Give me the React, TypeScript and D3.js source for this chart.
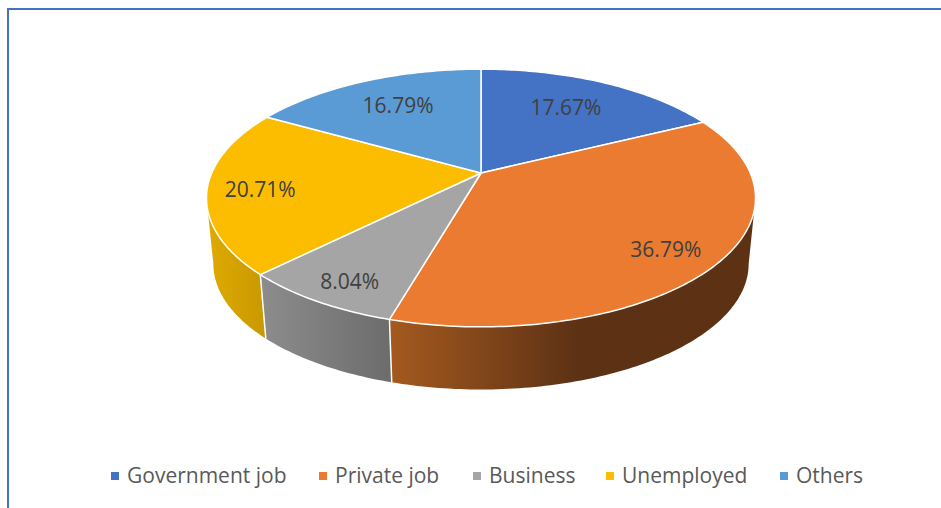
import { useEffect, useRef } from "react"
import * as d3 from "d3"

const categories = ["Government job", "Private job", "Business", "Unemployed", "Others"]
const shares = [17.67, 36.79, 8.04, 20.71, 16.79]
const colors = ["#4472C4", "#EB7B31", "#A5A5A5", "#FCBD00", "#5B9BD5"]

const width = 941
const height = 508

// tilted disc, seen in perspective
const cx = 481
const cy = 173
const discA = 269.3
const discB = 124
const tilt = 0.194

// the rim's lower edge
const lowerCy = 239.5
const lowerScale = 0.975

const labelRadius = [0.69, 0.82, 0.87, 0.81, 0.7]
// nudges so the labels sit where the original put them
const labelNudge: [number, number][] = [[-3, 0], [-4, 4], [8, 0], [0, 3], [2, 0]]
const legendSwatchX = [111, 319, 473, 606, 780]

function project(angle: number, r: number, y0 = cy, s = 1): [number, number] {
  const u = Math.sin(angle) * r
  const v = -Math.cos(angle) * r
  const w = 1 - tilt * v
  return [cx + (s * discA * u) / w, y0 + (s * discB * v) / w]
}

function arcPoints(a0: number, a1: number, y0 = cy, s = 1): [number, number][] {
  const n = Math.max(2, Math.ceil(Math.abs(a1 - a0) * 60))
  return d3.range(n + 1).map((i) => project(a0 + ((a1 - a0) * i) / n, 1, y0, s))
}

export default function App() {
  const svgRef = useRef<SVGSVGElement>(null)

  useEffect(() => {
    if (!svgRef.current) return
    const svg = d3.select(svgRef.current)
    svg.selectAll("*").remove()

    const line = d3.line<[number, number]>()
    const pie = d3.pie<number>().value((d) => d).sort(null)
    const slices = pie(shares)

    // side shading
    const defs = svg.append("defs")
    const gradient = (id: string, x1: number, x2: number, stops: [number, string][]) => {
      const g = defs
        .append("linearGradient")
        .attr("id", id)
        .attr("gradientUnits", "userSpaceOnUse")
        .attr("x1", x1)
        .attr("x2", x2)
        .attr("y1", 0)
        .attr("y2", 0)
      stops.forEach(([o, c]) => g.append("stop").attr("offset", o).attr("stop-color", c))
    }
    gradient("side1", 392, 600, [[0, "#A3591F"], [0.9, "#5C3114"], [1, "#5C3114"]])
    gradient("side2", 262, 392, [[0, "#8C8C8C"], [1, "#6C6C6C"]])
    gradient("side3", 207, 266, [[0, "#DFAB00"], [1, "#C89800"]])

    // tangent angles where the silhouette leaves the disc
    const rightTangent = Math.PI - Math.acos(tilt)
    const leftTangent = Math.PI + Math.acos(tilt)

    const sides: [number, number, string][] = [
      [slices[3].startAngle, leftTangent, "url(#side3)"],
      [slices[2].startAngle, slices[2].endAngle, "url(#side2)"],
      [rightTangent, slices[1].endAngle, "url(#side1)"],
    ]
    sides.forEach(([a0, a1, fill]) => {
      const pts = [...arcPoints(a0, a1), ...arcPoints(a1, a0, lowerCy, lowerScale)]
      svg.append("path").attr("d", line(pts) + "Z").attr("fill", fill)
    })

    // white seams between rim panels
    ;[slices[2].startAngle, slices[2].endAngle].forEach((a) => {
      svg
        .append("path")
        .attr("d", line([project(a, 1), project(a, 1, lowerCy, lowerScale)]))
        .attr("stroke", "#fff")
        .attr("stroke-width", 1.5)
        .attr("fill", "none")
    })

    // top face
    svg
      .append("g")
      .selectAll("path")
      .data(slices)
      .enter()
      .append("path")
      .attr("d", (d) => line([[cx, cy], ...arcPoints(d.startAngle, d.endAngle)]) + "Z")
      .attr("fill", (_, i) => colors[i])
      .attr("stroke", "#fff")
      .attr("stroke-width", 1.5)
      .attr("stroke-linejoin", "round")

    // data labels
    svg
      .append("g")
      .selectAll("text")
      .data(slices)
      .enter()
      .append("text")
      .attr("x", (d, i) => project((d.startAngle + d.endAngle) / 2, labelRadius[i])[0] + labelNudge[i][0])
      .attr("y", (d, i) => project((d.startAngle + d.endAngle) / 2, labelRadius[i])[1] + labelNudge[i][1])
      .attr("dy", "0.35em")
      .attr("text-anchor", "middle")
      .attr("fill", "#404040")
      .style("font-family", "'Open Sans'")
      .style("font-size", "21px")
      .text((_, i) => `${shares[i].toFixed(2)}%`)

    // legend
    const legend = svg
      .append("g")
      .selectAll("g")
      .data(categories)
      .enter()
      .append("g")
      .attr("transform", (_, i) => `translate(${legendSwatchX[i]}, 476)`)
    legend
      .append("rect")
      .attr("y", -4)
      .attr("width", 8)
      .attr("height", 8)
      .attr("fill", (_, i) => colors[i])
    legend
      .append("text")
      .attr("x", 16)
      .attr("dy", "0.35em")
      .attr("fill", "#595959")
      .style("font-family", "'Open Sans'")
      .style("font-size", "21px")
      .text((d) => d)

    // frame: only the top and left edges are in the crop
    svg
      .append("path")
      .attr("d", `M8 ${height}V9H${width}`)
      .attr("fill", "none")
      .attr("stroke", "#4472C4")
      .attr("stroke-width", 2)
  }, [])

  return (
    <svg
      ref={svgRef}
      width={width}
      height={height}
      style={{ position: "fixed", left: 0, top: 0, background: "#fff" }}
    ></svg>
  )
}
